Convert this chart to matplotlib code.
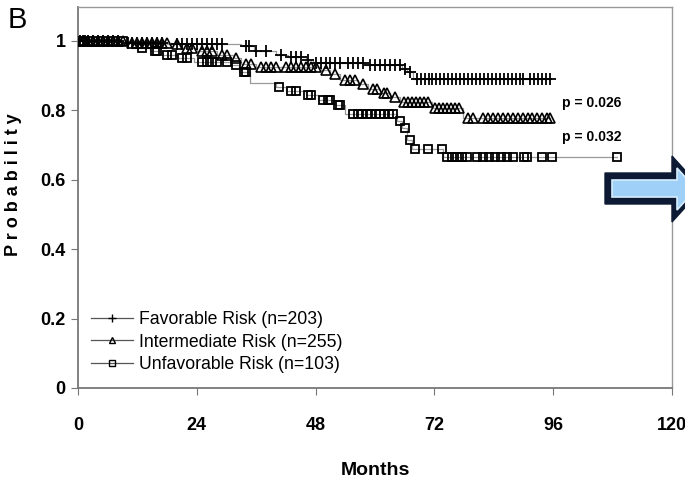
import numpy as np
import matplotlib
matplotlib.use("Agg")
import matplotlib.pyplot as plt
from matplotlib.patches import Polygon

plt.rcParams['font.family'] = ['Liberation Sans', 'DejaVu Sans']

# Kaplan-Meier steps (months, survival after the event) and censor times
fav_event_t = [9, 18, 33, 35.5, 40, 42.5, 46, 47.5, 58, 65.5, 66.5, 67.7]
fav_surv = [0.995, 0.99, 0.985, 0.97, 0.96, 0.955, 0.945, 0.937, 0.931, 0.92, 0.91, 0.89]
fav_censor = [0.5, 1, 1.5, 2, 3, 4, 5, 6, 7, 8, 10, 11, 12, 13, 14, 15, 16, 17,
              20, 21, 22, 23, 24, 25, 26, 27, 28, 29, 34, 34.5, 36, 38, 41,
              43, 44, 45, 46.5, 48, 49, 50, 51, 52, 53, 54.5, 55.5, 56.5, 57.5,
              59, 60, 61, 62, 63, 64, 65, 66, 67, 68.5, 69.3, 70, 70.8, 71.6,
              72.4, 73.2, 74, 74.8, 75.6, 76.4, 77.2, 78, 78.8, 79.6, 80.4, 81.2,
              82, 82.8, 83.6, 84.4, 85.2, 86, 86.8, 87.6, 88.4, 89.2, 89.9,
              91.3, 92.1, 92.9, 93.7, 94.5, 95.4]

int_event_t = [10, 19, 21, 24, 28, 31.5, 33, 36, 49, 51, 53, 56.5, 58.5, 61, 63, 65, 71.5, 77.8]
int_surv = [0.995, 0.99, 0.98, 0.97, 0.96, 0.95, 0.935, 0.925, 0.915, 0.905, 0.888,
            0.875, 0.862, 0.85, 0.84, 0.824, 0.807, 0.778]
int_censor = [0.3, 1, 2, 3, 4, 5, 6, 7, 8, 9, 11, 12, 13, 14, 15, 16, 17, 18,
              20, 22, 23, 25, 26, 27, 29, 30, 32, 34, 35, 37, 38, 39, 40,
              42, 43, 44, 45, 46, 47, 48, 50, 52, 54, 55, 56, 57.5, 59.5, 60.3,
              61.8, 62.5, 64, 65.8, 66.6, 67.4, 68.2, 69, 69.8, 70.6, 72.2, 73,
              73.8, 74.6, 75.4, 76.2, 77, 78.8, 79.8, 81.8, 82.8, 83.8, 84.8,
              85.8, 86.8, 87.8, 88.8, 89.8, 90.8, 91.8, 92.8, 93.8, 94.8, 95.4]

unf_event_t = [11, 14.5, 17, 20, 23.5, 31, 32.5, 34.7, 40, 42, 46, 48.5, 52, 54,
               64.5, 65.5, 66.5, 67.5, 73.8]
unf_surv = [0.98, 0.97, 0.96, 0.95, 0.94, 0.93, 0.91, 0.88, 0.868, 0.855, 0.845,
            0.83, 0.815, 0.79, 0.77, 0.75, 0.715, 0.69, 0.665]
unf_censor = [1, 3, 5, 7, 9, 13, 15.5, 16, 18, 19, 21, 22, 25, 26, 27, 28, 30, 32,
              33.5, 34, 40.5, 43, 44, 46.5, 47, 49.5, 50.5, 51, 52.5, 53, 55.6,
              56.5, 57.4, 58.3, 59.2, 60.1, 61, 61.9, 62.8, 63.7, 65, 66, 67, 68,
              70.7, 73.6, 74.5, 75.5, 76.5, 77.5, 78.5, 80.6, 81.8, 83, 84.2,
              85.4, 86.7, 87.9, 90, 90.7, 93.7, 95.8, 108.9]

labels = ["Favorable Risk (n=203)", "Intermediate Risk (n=255)", "Unfavorable Risk (n=103)"]
p_texts = ["p = 0.026", "p = 0.032"]
p_pos = [(97.8, 0.821), (97.8, 0.723)]

fig = plt.figure(figsize=(6.85, 4.79), dpi=100)
ax = fig.add_axes([0.1139, 0.19, 0.8672, 0.7954])

groups = [
    (fav_event_t, fav_surv, fav_censor, '+', 8.5, 1.3),
    (int_event_t, int_surv, int_censor, '^', 6.5, 1.2),
    (unf_event_t, unf_surv, unf_censor, 's', 5.5, 1.3),
]
handles = []
for (et, sv, cens, mk, ms, mew), lab in zip(groups, labels):
    t = np.array([0] + et + [max(cens)])
    s = np.array([1.0] + sv + [sv[-1]])
    ax.step(t, s, where='post', color='#9a9a9a', lw=0.9, zorder=2)
    idx = np.searchsorted(np.array(et), np.array(cens), side='right')
    cy = np.array([1.0] + sv)[idx]
    ax.plot(cens, cy, linestyle='none', marker=mk, ms=ms, mew=mew,
            mec='black', mfc='none', zorder=3)
    h, = ax.plot([], [], color='#555555', lw=0.9, marker=mk, ms=ms * 0.75,
                 mew=1.0, mec='black', mfc='none', label=lab)
    handles.append(h)

ax.set_xlim(0, 120)
ax.set_ylim(0, 1.098)
ax.set_xticks([0, 24, 48, 72, 96, 120])
ax.set_yticks([0, 0.2, 0.4, 0.6, 0.8, 1.0])
ax.set_yticklabels(["0", "0.2", "0.4", "0.6", "0.8", "1"])
ax.tick_params(axis='both', direction='out', length=5, color='#777777',
               labelsize=13, pad=4)
ax.tick_params(axis='x', pad=16)
for lbl in ax.get_xticklabels() + ax.get_yticklabels():
    lbl.set_fontweight('bold')

for side in ['left', 'bottom']:
    ax.spines[side].set_color('#777777')
    ax.spines[side].set_linewidth(1.3)
for side in ['top', 'right']:
    ax.spines[side].set_color('#999999')
    ax.spines[side].set_linewidth(1.0)

ax.set_xlabel("Months", fontsize=14, fontweight='bold', labelpad=20)
ax.set_ylabel("P r o b a b i l i t y", fontsize=13, fontweight='bold')
ax.yaxis.set_label_coords(-0.094, 0.533)

for txt, (x, y) in zip(p_texts, p_pos):
    ax.text(x, y, txt, fontsize=10, fontweight='bold', va='center', ha='left')

ax.legend(handles=handles, loc='lower left', bbox_to_anchor=(0.01, 0.02),
          frameon=False, fontsize=12.7, handlelength=2.4, handletextpad=0.3,
          labelspacing=0.32, borderaxespad=0)

fig.text(8 / 685, 1 - 20 / 479, "B", fontsize=21, va='center', ha='left')

# blue arrow overlay on the right edge
def px(pts):
    return [(x / 685, 1 - y / 479) for x, y in pts]

outer = px([(605, 173), (672, 173), (672, 156), (702, 189), (672, 222), (672, 204), (605, 204)])
inner = px([(612, 180), (677, 180), (677, 168), (696, 189), (677, 210), (677, 197), (612, 197)])
fig.patches.append(Polygon(outer, closed=True, transform=fig.transFigure,
                           facecolor='#0c1a33', edgecolor='#0c1a33', lw=1, clip_on=False))
fig.patches.append(Polygon(inner, closed=True, transform=fig.transFigure,
                           facecolor='#9fd0f7', edgecolor='#d8eefc', lw=1.2, clip_on=False))

fig.savefig("out.png", dpi=100)
